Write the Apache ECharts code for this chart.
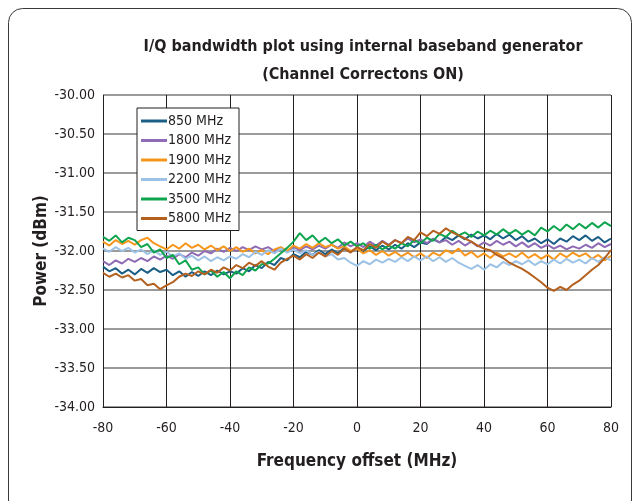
<!DOCTYPE html>
<html>
<head>
<meta charset="utf-8">
<script src="https://cdn.jsdelivr.net/npm/echarts@6/dist/echarts.min.js"></script>
<style>
  html, body { margin: 0; padding: 0; background: #fff; }
  #chart { width: 640px; height: 501px; }
</style>
</head>
<body>
<div id="chart"></div>
<script>
// I/Q bandwidth plot, one point every 2 MHz
const freqStart = -80
const freqStep = 2

const seriesNames = ['850 MHz', '1800 MHz', '1900 MHz', '2200 MHz', '3500 MHz', '5800 MHz']
const yTicks = ['-30.00', '-30.50', '-31.00', '-31.50', '-32.00', '-32.50', '-33.00', '-33.50', '-34.00']

const mhz850 = [
  -32.20, -32.26, -32.22, -32.29, -32.24, -32.30, -32.23, -32.28, -32.22, -32.27,
  -32.24, -32.31, -32.26, -32.33, -32.27, -32.32, -32.26, -32.31, -32.25, -32.30,
  -32.26, -32.29, -32.22, -32.26, -32.18, -32.22, -32.14, -32.18, -32.09, -32.12,
  -32.04, -32.08, -32.01, -32.05, -31.99, -32.04, -31.98, -32.03, -31.96, -32.01,
  -31.96, -32.00, -31.94, -31.99, -31.93, -31.98, -31.92, -31.97, -31.90, -31.95,
  -31.89, -31.91, -31.85, -31.89, -31.82, -31.86, -31.80, -31.85, -31.79, -31.84,
  -31.80, -31.85, -31.78, -31.84, -31.79, -31.86, -31.81, -31.88, -31.84, -31.90,
  -31.85, -31.91, -31.84, -31.88, -31.81, -31.86, -31.80, -31.87, -31.82, -31.89,
  -31.84
]
const mhz1800 = [
  -32.13, -32.18, -32.12, -32.16, -32.10, -32.14, -32.09, -32.13, -32.07, -32.11,
  -32.06, -32.10, -32.04, -32.08, -32.02, -32.06, -32.00, -32.03, -31.97, -32.01,
  -31.96, -32.00, -31.95, -31.99, -31.94, -31.98, -31.95, -32.00, -31.96, -32.01,
  -31.95, -31.99, -31.94, -31.98, -31.93, -31.97, -31.92, -31.96, -31.89, -31.94,
  -31.90, -31.95, -31.88, -31.93, -31.87, -31.92, -31.86, -31.90, -31.84, -31.89,
  -31.85, -31.90, -31.84, -31.89, -31.86, -31.92, -31.87, -31.93, -31.88, -31.94,
  -31.89, -31.93, -31.87, -31.92, -31.88, -31.94, -31.89, -31.95, -31.90, -31.96,
  -31.92, -31.97, -31.93, -31.98, -31.94, -31.97, -31.92, -31.96, -31.90, -31.95,
  -31.91
]
const mhz1900 = [
  -31.88, -31.93, -31.86, -31.91, -31.87, -31.92, -31.86, -31.83, -31.90, -31.94,
  -31.98, -31.92, -31.97, -31.90, -31.96, -31.92, -31.98, -31.93, -31.99, -31.94,
  -32.00, -31.95, -32.01, -31.97, -32.03, -31.99, -32.04, -31.98, -31.95, -32.00,
  -31.93, -31.97, -31.91, -31.96, -31.90, -31.95, -31.92, -31.97, -31.94, -32.00,
  -31.97, -32.03, -31.99, -32.05, -32.00, -32.06, -32.01, -32.07, -32.02, -32.08,
  -32.03, -32.09, -32.02, -32.06, -31.99, -32.03, -31.97, -32.06, -32.01, -32.08,
  -32.03, -32.09, -32.02, -32.07, -32.03, -32.08, -32.02, -32.09, -32.04, -32.10,
  -32.05, -32.11, -32.03, -32.08, -32.02, -32.07, -32.03, -32.10, -32.05, -32.12,
  -32.06
]
const mhz2200 = [
  -31.97, -32.01, -31.95, -32.00, -31.96, -32.02, -31.98, -32.04, -31.99, -32.05,
  -32.01, -32.07, -32.03, -32.10, -32.06, -32.12, -32.07, -32.13, -32.08, -32.12,
  -32.07, -32.10, -32.04, -32.08, -32.01, -32.05, -31.99, -32.03, -31.97, -32.02,
  -31.98, -32.03, -31.99, -32.05, -32.01, -32.07, -32.04, -32.11, -32.09, -32.15,
  -32.19, -32.13, -32.17, -32.11, -32.15, -32.10, -32.14, -32.08, -32.13, -32.07,
  -32.12, -32.07, -32.13, -32.08, -32.14, -32.09, -32.15, -32.19, -32.23, -32.18,
  -32.24, -32.17, -32.21, -32.14, -32.18, -32.13, -32.17, -32.12, -32.18, -32.13,
  -32.17, -32.11, -32.16, -32.10, -32.15, -32.11, -32.16, -32.09, -32.14, -32.08,
  -32.12
]
const mhz3500 = [
  -31.82, -31.87, -31.80, -31.89, -31.83, -31.86, -31.95, -31.91, -32.02, -31.98,
  -32.09, -32.05, -32.17, -32.12, -32.24, -32.21, -32.30, -32.25, -32.33, -32.27,
  -32.35, -32.26, -32.31, -32.21, -32.25, -32.17, -32.16, -32.10, -32.03, -31.96,
  -31.88, -31.77, -31.86, -31.80, -31.89, -31.83, -31.90, -31.85, -31.93, -31.88,
  -31.94, -31.90, -31.97, -31.92, -31.98, -31.93, -31.97, -31.90, -31.94, -31.86,
  -31.90, -31.83, -31.87, -31.78, -31.82, -31.74, -31.80, -31.76, -31.82, -31.75,
  -31.80, -31.74, -31.79, -31.72, -31.78, -31.73, -31.79, -31.74, -31.80, -31.70,
  -31.75, -31.68, -31.74, -31.66, -31.72, -31.65, -31.71, -31.64, -31.70, -31.63,
  -31.68
]
const mhz5800 = [
  -32.28, -32.33, -32.29, -32.34, -32.31, -32.38, -32.36, -32.44, -32.42, -32.49,
  -32.44, -32.40, -32.33, -32.29, -32.32, -32.26, -32.30, -32.24, -32.28, -32.21,
  -32.25, -32.18, -32.22, -32.15, -32.19, -32.13, -32.20, -32.24, -32.15, -32.10,
  -32.06, -32.11, -32.04, -32.09, -32.02, -32.07, -32.00, -32.05, -31.97, -32.02,
  -31.95, -31.99, -31.91, -31.96, -31.88, -31.93, -31.86, -31.90, -31.82, -31.86,
  -31.76, -31.81, -31.74, -31.78, -31.71, -31.76, -31.80, -31.84, -31.88, -31.93,
  -31.97, -31.99, -32.05, -32.09, -32.15, -32.19, -32.23, -32.28, -32.34, -32.40,
  -32.47, -32.51, -32.46, -32.50, -32.43, -32.38, -32.31, -32.24, -32.18, -32.09,
  -31.99
]

const seriesValues = [mhz850, mhz1800, mhz1900, mhz2200, mhz3500, mhz5800]
const colors = ['#1b5e86', '#8e6bb4', '#f7961c', '#9cc2e5', '#0fa54e', '#b4611f']

const font = "'Liberation Sans Narrow', 'DejaVu Sans Condensed', 'Roboto Condensed', sans-serif"

const chart = echarts.init(document.getElementById('chart'))

const series = seriesNames.map((name, i) => ({
  name: name,
  type: 'line',
  showSymbol: false,
  symbol: 'none',
  animation: false,
  lineStyle: { width: 2, color: colors[i] },
  itemStyle: { color: colors[i] },
  data: seriesValues[i].map((v, j) => [freqStart + j * freqStep, v])
}))

const option = {
  backgroundColor: '#fff',
  animation: false,
  graphic: [{
    type: 'rect',
    shape: { x: 8.5, y: 8.5, width: 623, height: 520, r: 14 },
    style: { fill: 'none', stroke: '#3a3a3a', lineWidth: 1 },
    silent: true
  }, {
    // y axis title, placed by hand so it sits where the reference has it
    type: 'text',
    x: 42,
    y: 251,
    rotation: Math.PI / 2,
    style: {
      text: 'Power (dBm)',
      font: "bold 17px " + font,
      fill: '#231f20',
      align: 'center',
      verticalAlign: 'middle'
    },
    silent: true
  }],
  title: {
    text: 'I/Q bandwidth plot using internal baseband generator\n(Channel Correctons ON)',
    left: 358,
    textAlign: 'center',
    top: 28,
    textStyle: {
      fontFamily: font,
      fontSize: 16,
      fontWeight: 'bold',
      color: '#231f20',
      lineHeight: 28
    }
  },
  legend: {
    orient: 'vertical',
    left: 137,
    top: 108,
    width: 100,
    data: seriesNames,
    icon: 'rect',
    itemWidth: 26,
    itemHeight: 3,
    itemGap: 5.5,
    padding: [6, 8, 5, 4],
    backgroundColor: '#fff',
    borderColor: '#231f20',
    borderWidth: 1,
    textStyle: { fontFamily: font, fontSize: 14, color: '#231f20', padding: [0, 0, 0, -4] }
  },
  grid: { left: 103, right: 29, top: 95, bottom: 94 },
  xAxis: {
    type: 'value',
    min: -80,
    max: 80,
    interval: 20,
    name: 'Frequency offset (MHz)',
    nameLocation: 'middle',
    nameGap: 46,
    nameTextStyle: { fontFamily: font, fontSize: 17, fontWeight: 'bold', color: '#231f20' },
    axisLine: { lineStyle: { color: '#231f20', width: 1 } },
    axisTick: { show: false },
    axisLabel: { fontFamily: font, fontSize: 14, color: '#231f20', margin: 14 },
    splitLine: { show: true, lineStyle: { color: '#231f20', width: 1 } }
  },
  yAxis: {
    type: 'value',
    min: -34,
    max: -30,
    interval: 0.5,
    axisLine: { show: true, lineStyle: { color: '#231f20', width: 1 } },
    axisTick: { show: false },
    axisLabel: {
      fontFamily: font,
      fontSize: 14,
      color: '#231f20',
      margin: 8,
      formatter: v => yTicks[Math.round((-30 - v) / 0.5)]
    },
    splitLine: { show: true, lineStyle: { color: '#7a7a7a', width: 1.5 } }
  },
  series: series
}

option && chart.setOption(option)
</script>
</body>
</html>
